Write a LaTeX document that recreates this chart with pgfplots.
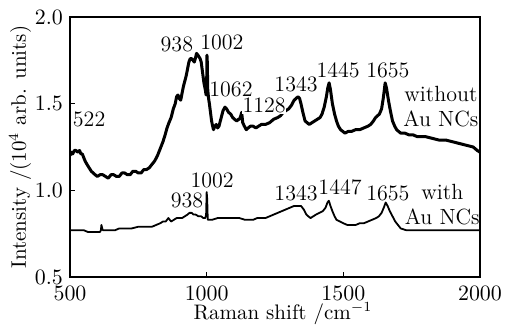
\documentclass[border=0pt]{standalone}
\usepackage{pgfplots}
\pgfplotsset{compat=1.18}
\begin{document}
\begin{tikzpicture}
\path[use as bounding box] (-35pt,-24.5pt) rectangle (217.5pt,138.5pt);
\begin{axis}[
  at={(0,0)}, anchor=south west,
  scale only axis, width=205pt, height=130pt,
  xmin=500, xmax=2000, ymin=0.5, ymax=2.0,
  xtick={500,1000,1500,2000}, ytick={0.5,1.0,1.5,2.0},
  yticklabel style={/pgf/number format/fixed, /pgf/number format/fixed zerofill, /pgf/number format/precision=1},
  xticklabel style={inner sep=1pt, yshift=-3.3pt, /pgf/number format/set thousands separator={}},
  tick align=inside, xtick pos=bottom, ytick pos=left,
  major tick length=2.5pt,
  tick style={black, line width=0.8pt},
  axis line style={line width=0.8pt},
  tick label style={font=\fontsize{10.5}{12}\selectfont},
  xlabel={Raman shift /cm$^{-1}$},
  ylabel={Intensity /(10$^4$ arb. units)},
  label style={font=\fontsize{10.5}{12}\selectfont},
  xlabel style={inner sep=0.5pt, yshift=0.7pt, xshift=4pt},
  ylabel style={yshift=-5pt},
  clip=true,
]
\addplot[black, line width=1.5pt, line join=round] coordinates {
(500,1.20)(505,1.22)(510,1.21)(516,1.23)(522,1.23)(528,1.22)(535,1.23)(540,1.21)(545,1.21)(550,1.19)(555,1.17)(562,1.15)(570,1.13)(578,1.11)(585,1.10)(592,1.09)(600,1.08)(610,1.09)(620,1.09)(630,1.08)(640,1.07)(650,1.09)(660,1.09)(670,1.08)(680,1.08)(690,1.10)(700,1.10)(710,1.09)(720,1.09)(730,1.11)(740,1.11)(750,1.10)(760,1.10)(770,1.12)(780,1.12)(790,1.13)(800,1.15)(810,1.17)(820,1.20)(830,1.24)(840,1.28)(848,1.32)(855,1.36)(862,1.39)(870,1.42)(878,1.47)(885,1.50)(890,1.54)(895,1.55)(900,1.53)(905,1.52)(910,1.56)(915,1.60)(920,1.63)(925,1.66)(930,1.70)(935,1.74)(940,1.76)(945,1.76)(950,1.75)(955,1.74)(960,1.77)(963,1.79)(968,1.78)(972,1.77)(976,1.76)(980,1.74)(985,1.68)(990,1.62)(995,1.58)(998,1.55)(1000,1.60)(1001,1.78)(1002,1.76)(1004,1.58)(1007,1.53)(1010,1.50)(1014,1.45)(1018,1.40)(1022,1.37)(1025,1.35)(1030,1.37)(1035,1.38)(1040,1.36)(1045,1.37)(1050,1.40)(1055,1.43)(1060,1.46)(1067,1.48)(1073,1.47)(1080,1.45)(1088,1.44)(1095,1.42)(1102,1.41)(1110,1.40)(1116,1.41)(1120,1.41)(1125,1.43)(1128,1.45)(1130,1.42)(1132,1.39)(1138,1.37)(1145,1.35)(1152,1.36)(1160,1.37)(1170,1.37)(1180,1.36)(1190,1.37)(1200,1.38)(1215,1.38)(1230,1.39)(1245,1.41)(1260,1.42)(1270,1.43)(1280,1.45)(1290,1.46)(1300,1.47)(1310,1.49)(1320,1.52)(1327,1.53)(1334,1.54)(1340,1.53)(1345,1.50)(1352,1.45)(1360,1.40)(1368,1.39)(1375,1.38)(1385,1.39)(1395,1.40)(1405,1.41)(1415,1.42)(1422,1.44)(1430,1.48)(1438,1.54)(1443,1.59)(1448,1.62)(1453,1.58)(1460,1.50)(1468,1.44)(1475,1.40)(1482,1.37)(1490,1.35)(1498,1.34)(1506,1.33)(1518,1.34)(1530,1.34)(1545,1.35)(1560,1.35)(1575,1.36)(1590,1.37)(1600,1.38)(1610,1.40)(1618,1.42)(1625,1.43)(1632,1.44)(1640,1.47)(1646,1.53)(1650,1.58)(1653,1.62)(1658,1.59)(1665,1.52)(1672,1.46)(1680,1.40)(1688,1.37)(1695,1.35)(1702,1.34)(1710,1.33)(1725,1.33)(1740,1.32)(1755,1.32)(1770,1.31)(1785,1.31)(1800,1.31)(1825,1.30)(1850,1.29)(1875,1.29)(1900,1.28)(1925,1.27)(1950,1.26)(1975,1.25)(1990,1.23)(2000,1.22)
};
\addplot[black, line width=0.9pt, line join=round] coordinates {
(500,0.77)(525,0.77)(550,0.77)(565,0.76)(580,0.76)(595,0.76)(610,0.76)(613,0.77)(615,0.80)(618,0.78)(620,0.77)(635,0.77)(650,0.77)(665,0.77)(680,0.78)(700,0.78)(725,0.78)(750,0.79)(775,0.79)(800,0.79)(815,0.80)(830,0.81)(840,0.82)(850,0.82)(855,0.83)(860,0.84)(865,0.83)(870,0.82)(880,0.83)(890,0.84)(900,0.84)(910,0.84)(920,0.85)(930,0.86)(937,0.87)(945,0.87)(952,0.86)(960,0.86)(970,0.85)(980,0.85)(988,0.84)(995,0.84)(998,0.86)(1000,0.99)(1002,0.95)(1004,0.83)(1010,0.83)(1020,0.83)(1040,0.84)(1060,0.84)(1080,0.84)(1100,0.84)(1120,0.84)(1140,0.83)(1155,0.83)(1170,0.83)(1185,0.84)(1200,0.84)(1215,0.84)(1230,0.85)(1245,0.86)(1260,0.87)(1275,0.88)(1290,0.89)(1305,0.90)(1320,0.91)(1332,0.91)(1345,0.91)(1355,0.89)(1365,0.86)(1372,0.85)(1380,0.84)(1390,0.85)(1400,0.86)(1412,0.87)(1425,0.88)(1435,0.90)(1442,0.93)(1447,0.94)(1453,0.91)(1460,0.88)(1468,0.85)(1475,0.83)(1488,0.82)(1500,0.81)(1515,0.80)(1530,0.80)(1545,0.80)(1560,0.81)(1575,0.81)(1590,0.82)(1605,0.83)(1620,0.84)(1630,0.85)(1640,0.87)(1648,0.90)(1655,0.93)(1662,0.91)(1670,0.88)(1680,0.85)(1690,0.82)(1700,0.80)(1710,0.78)(1720,0.775)(1730,0.77)(1760,0.77)(1800,0.77)(1850,0.77)(1900,0.77)(1950,0.77)(2000,0.77)
};
\begin{scope}[every node/.style={font=\fontsize{11}{12}\selectfont, inner sep=0pt}]
\node at (axis cs:570,1.41) {522};
\node at (axis cs:891,1.84) {938};
\node at (axis cs:1056,1.855) {1002};
\node at (axis cs:1089,1.585) {1062};
\node[fill=white, inner sep=0.3pt] at (axis cs:1210,1.49) {1128};
\node at (axis cs:1327,1.61) {1343};
\node at (axis cs:1481,1.69) {1445};
\node at (axis cs:1663,1.69) {1655};
\node[align=center, font=\fontsize{11}{12.5}\selectfont] at (axis cs:1857,1.485) {without\\Au NCs};
\node at (axis cs:928,0.94) {938};
\node at (axis cs:1020,1.06) {1002};
\node at (axis cs:1327,0.98) {1343};
\node at (axis cs:1488,1.02) {1447};
\node at (axis cs:1663,0.98) {1655};
\node[align=center, font=\fontsize{11}{12.5}\selectfont] at (axis cs:1862,0.915) {with\\Au NCs};
\end{scope}
\end{axis}
\end{tikzpicture}
\end{document}
